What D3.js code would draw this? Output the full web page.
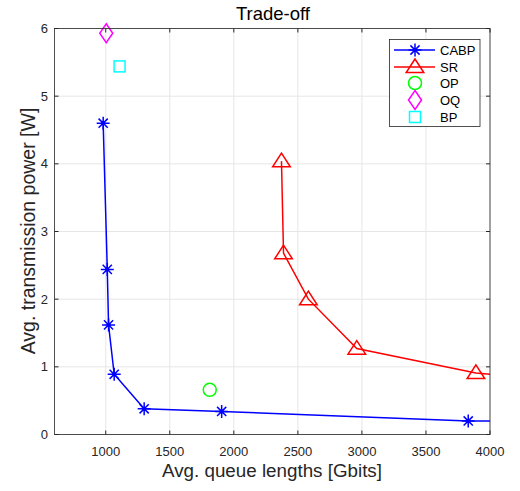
<!DOCTYPE html>
<html><head><meta charset="utf-8">
<script src="https://cdn.jsdelivr.net/npm/d3@7"></script>
<style>body{margin:0;background:#fff}svg{display:block}text{font-family:"Liberation Sans",Arial,sans-serif}</style>
</head><body><svg id="c" width="520" height="491"></svg>
<script>
const cabpX = [980, 1012, 1022, 1066, 1300, 1905, 3830, 4600];
const cabpY = [4.60, 2.44, 1.62, 0.89, 0.38, 0.34, 0.20, 0.19];
const srX = [2372, 2388, 2582, 2960, 3890, 4400];
const srY = [4.04, 2.68, 2.00, 1.27, 0.91, 0.82];
const opPt = [1812, 0.66];
const oqPt = [1004, 5.93];
const bpPt = [1108, 5.44];
const xTicks = [1000, 1500, 2000, 2500, 3000, 3500, 4000];
const yTicks = [0, 1, 2, 3, 4, 5, 6];
const legendNames = ["CABP", "SR", "OP", "OQ", "BP"];

const svg = d3.select("#c");
const L = 54.5, R = 490, T = 28.5, B = 434.5;
const x = d3.scaleLinear().domain([600, 4000]).range([L, R]);
const y = d3.scaleLinear().domain([0, 6]).range([B, T]);

// grid
const g = svg.append("g");
g.selectAll(".gx").data(xTicks).join("line").attr("x1", d => x(d)).attr("x2", d => x(d)).attr("y1", T).attr("y2", B).attr("stroke", "#e6e6e6").attr("stroke-width", 1);
g.selectAll(".gy").data(yTicks).join("line").attr("x1", L).attr("x2", R).attr("y1", d => y(d)).attr("y2", d => y(d)).attr("stroke", "#e6e6e6").attr("stroke-width", 1);

// clip
svg.append("clipPath").attr("id", "clip").append("rect").attr("x", L).attr("y", T - 20).attr("width", R - L).attr("height", B - T + 20);

const plot = svg.append("g").attr("clip-path", "url(#clip)");
const line = d3.line().x(d => x(d[0])).y(d => y(d[1]));
const cabp = cabpX.map((v, i) => [v, cabpY[i]]);
const sr = srX.map((v, i) => [v, srY[i]]);

plot.append("path").attr("d", line(cabp)).attr("fill", "none").attr("stroke", "#0000ff").attr("stroke-width", 1.5);
plot.append("path").attr("d", line(sr)).attr("fill", "none").attr("stroke", "#ff0000").attr("stroke-width", 1.5);

function star(px, py, s) {
  const a = s * 0.707;
  return `M${px - s},${py}L${px + s},${py}M${px},${py - s}L${px},${py + s}M${px - a},${py - a}L${px + a},${py + a}M${px - a},${py + a}L${px + a},${py - a}`;
}
function tri(px, py, s) {
  return `M${px},${py - s}L${px + s * 1.1},${py + s * 0.7}L${px - s * 1.1},${py + s * 0.7}Z`;
}
function diamond(px, py, w, h) {
  return `M${px},${py - h}L${px + w},${py}L${px},${py + h}L${px - w},${py}Z`;
}
function drawStar(sel, px, py) {
  sel.append("path").attr("d", star(px, py, 6.5)).attr("stroke", "#0000ff").attr("stroke-width", 1.5).attr("fill", "none");
  sel.append("circle").attr("cx", px).attr("cy", py).attr("r", 2).attr("fill", "#0000ff");
}
function drawTri(sel, px, py) {
  sel.append("path").attr("d", tri(px, py, 8)).attr("stroke", "#ff0000").attr("stroke-width", 1.5).attr("fill", "none");
}
function drawCircle(sel, px, py) {
  sel.append("circle").attr("cx", px).attr("cy", py).attr("r", 6.5).attr("stroke", "#00ff00").attr("stroke-width", 1.5).attr("fill", "none");
}
function drawDiamond(sel, px, py) {
  sel.append("path").attr("d", diamond(px, py, 6.5, 9.5)).attr("stroke", "#ff00ff").attr("stroke-width", 1.5).attr("fill", "none");
}
function drawSquare(sel, px, py) {
  sel.append("rect").attr("x", px - 5.5).attr("y", py - 5.5).attr("width", 11).attr("height", 11).attr("stroke", "#00ffff").attr("stroke-width", 1.5).attr("fill", "none");
}

const mk = svg.append("g");
cabp.filter(d => d[0] <= 4000).forEach(d => drawStar(mk, x(d[0]), y(d[1])));
sr.filter(d => d[0] <= 4000).forEach(d => drawTri(mk, x(d[0]), y(d[1])));
drawCircle(mk, x(opPt[0]), y(opPt[1]));
drawDiamond(mk, x(oqPt[0]), y(oqPt[1]));
drawSquare(mk, x(bpPt[0]), y(bpPt[1]));

// axes box
const ax = svg.append("g");
const axc = "#262626";
ax.append("rect").attr("x", L).attr("y", T).attr("width", R - L).attr("height", B - T).attr("fill", "none").attr("stroke", axc).attr("stroke-width", 0.8);
const tl = 4;
xTicks.forEach(t => {
  ax.append("line").attr("x1", x(t)).attr("x2", x(t)).attr("y1", B).attr("y2", B - tl).attr("stroke", axc);
  ax.append("line").attr("x1", x(t)).attr("x2", x(t)).attr("y1", T).attr("y2", T + tl).attr("stroke", axc);
  ax.append("text").attr("x", x(t)).attr("y", B + 21.3).attr("text-anchor", "middle").attr("font-size", 13).attr("fill", axc).text(t);
});
yTicks.forEach(t => {
  ax.append("line").attr("x1", L).attr("x2", L + tl).attr("y1", y(t)).attr("y2", y(t)).attr("stroke", axc);
  ax.append("line").attr("x1", R).attr("x2", R - tl).attr("y1", y(t)).attr("y2", y(t)).attr("stroke", axc);
  ax.append("text").attr("x", L - 6.5).attr("y", y(t) + 4.5).attr("text-anchor", "end").attr("font-size", 13).attr("fill", axc).text(t);
});

svg.append("text").attr("x", 272).attr("y", 476.5).attr("text-anchor", "middle").attr("font-size", 18.8).attr("fill", axc).text("Avg. queue lengths [Gbits]");
svg.append("text").attr("transform", "translate(34.5,231) rotate(-90)").attr("text-anchor", "middle").attr("font-size", 19.5).attr("fill", axc).text("Avg. transmission power [W]");
svg.append("text").attr("x", 273).attr("y", 19.5).attr("text-anchor", "middle").attr("font-size", 18.5).attr("fill", "#000").text("Trade-off");

// legend
const lg = svg.append("g");
lg.append("rect").attr("x", 389.5).attr("y", 39.5).attr("width", 90.5).attr("height", 87).attr("fill", "#fff").attr("stroke", "#262626").attr("stroke-width", 0.8);
const ly = [50, 67, 83, 100, 117];
legendNames.forEach((n, i) => {
  const yy = ly[i];
  if (i < 2) lg.append("line").attr("x1", 394).attr("x2", 435).attr("y1", yy).attr("y2", yy).attr("stroke", i === 0 ? "#0000ff" : "#ff0000").attr("stroke-width", 1.5);
  [drawStar, drawTri, drawCircle, drawDiamond, drawSquare][i](lg, 415, yy);
  lg.append("text").attr("x", 440).attr("y", yy + 4.7).attr("font-size", 13).attr("fill", "#000").text(n);
});
</script></body></html>
